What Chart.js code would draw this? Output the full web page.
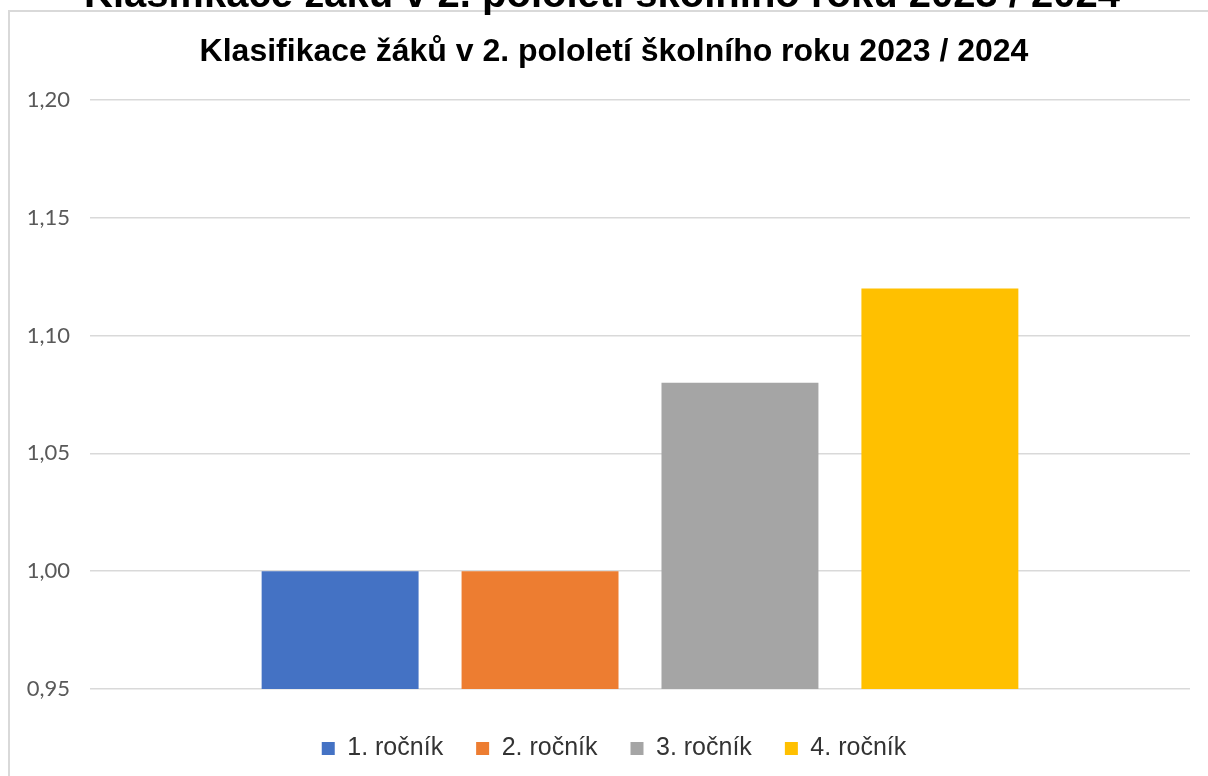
<!DOCTYPE html>
<html>
<head>
<meta charset="utf-8">
<script src="https://cdn.jsdelivr.net/npm/chart.js@4.4.1/dist/chart.umd.min.js"></script>
<style>
  html, body { margin: 0; padding: 0; background: #fff; width: 1208px; height: 776px; overflow: hidden; }
  #frame { position: absolute; left: 8px; top: 10px; width: 1300px; height: 900px; border: 2px solid #d9d9d9; box-sizing: border-box; }
  #outerTitle { position: absolute; left: 0; top: -27px; width: 1204px; text-align: center; font: bold 40px "Liberation Sans", Arial, sans-serif; line-height: 40px; color: #000; white-space: nowrap; z-index: 2; }
  #wrap { position: absolute; left: 0; top: 0; width: 1228px; height: 776px; }
</style>
</head>
<body>
<div id="frame"></div>
<div id="outerTitle">Klasifikace žáků v 2. pololetí školního roku 2023 / 2024</div>
<div id="wrap"><canvas id="c" width="1228" height="776"></canvas></div>
<script>
const chartTitle = 'Klasifikace žáků v 2. pololetí školního roku 2023 / 2024';
const categories = [''];
const seriesNames = ['1. ročník', '2. ročník', '3. ročník', '4. ročník'];
const seriesValues = [1.00, 1.00, 1.08, 1.12];
const seriesColors = ['#4472C4', '#ED7D31', '#A5A5A5', '#FFC000'];
const yMin = 0.95, yMax = 1.20, yStep = 0.05;

const datasets = seriesNames.map((name, i) => ({
  label: name,
  data: [seriesValues[i]],
  backgroundColor: seriesColors[i],
  borderWidth: 0,
  categoryPercentage: 0.727,
  barPercentage: 0.785
}));

new Chart(document.getElementById('c'), {
  type: 'bar',
  data: { labels: categories, datasets },
  options: {
    responsive: false,
    animation: false,
    devicePixelRatio: 1,
    layout: { padding: { left: 0, right: 0, top: 0, bottom: 5 } },
    plugins: {
      title: {
        display: true,
        text: chartTitle,
        color: '#000',
        font: { family: '"Liberation Sans", Arial, sans-serif', size: 32, weight: 'bold', lineHeight: 1.2 },
        padding: { top: 33, bottom: 28.6 }
      },
      legend: {
        position: 'bottom',
        labels: {
          boxWidth: 13,
          boxHeight: 13,
          padding: 33,
          color: '#333333',
          font: { family: '"Liberation Sans", Arial, sans-serif', size: 25 }
        }
      },
      tooltip: { enabled: false }
    },
    scales: {
      x: {
        display: true,
        grid: { display: false },
        border: { display: false },
        ticks: { display: false },
        afterFit: s => { s.height = 14; }
      },
      y: {
        min: yMin,
        max: yMax,
        grid: { color: '#d9d9d9', lineWidth: 1.5, drawTicks: false },
        border: { display: false },
        ticks: {
          stepSize: yStep,
          padding: 20,
          color: '#595959',
          font: { family: 'Lato, "Open Sans", sans-serif', size: 22 },
          callback: v => Number(v).toFixed(2).replace('.', ',')
        },
        afterFit: s => { s.width = 90; }
      },
      yRight: {
        position: 'right',
        display: true,
        min: yMin,
        max: yMax,
        grid: { display: false },
        border: { display: false },
        ticks: { display: false },
        afterFit: s => { s.width = 38; }
      }
    }
  }
});
</script>
</body>
</html>
